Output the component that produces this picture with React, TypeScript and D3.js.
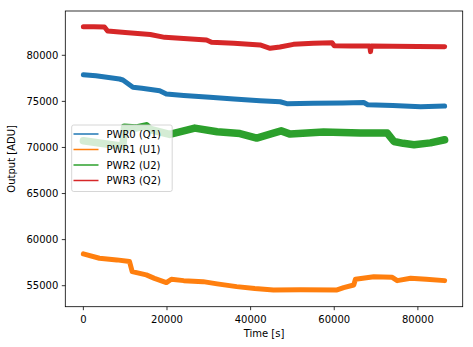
import React from "react";
import * as d3 from "d3";

const W = 473;
const H = 347;

const seriesNames = ["PWR0 (Q1)", "PWR1 (U1)", "PWR2 (U2)", "PWR3 (Q2)"];
const seriesColors = ["#1f77b4", "#ff7f0e", "#2ca02c", "#d62728"];

const xTicks = [0, 20000, 40000, 60000, 80000];
const yTicks = [55000, 60000, 65000, 70000, 75000, 80000];

// time [s], output [ADU]
const pwr0T = [0, 3000, 8640, 9450, 11850, 14000, 18250, 19850, 24000, 30250, 36000, 42260, 47060, 48660, 55000, 62000, 67060, 68000, 74000, 80670, 86400];
const pwr0V = [77900, 77780, 77430, 77320, 76530, 76420, 76160, 75800, 75640, 75440, 75250, 75070, 74960, 74750, 74800, 74820, 74880, 74640, 74560, 74420, 74500];

const pwr1T = [0, 3840, 8000, 11040, 11680, 15050, 17000, 19850, 21050, 24000, 28640, 32000, 36660, 41000, 45460, 52000, 60670, 62260, 64660, 65070, 69460, 73870, 75070, 78270, 82000, 86400];
const pwr1V = [58450, 57980, 57800, 57620, 56530, 56170, 55800, 55340, 55700, 55550, 55440, 55200, 54900, 54700, 54540, 54560, 54540, 54790, 55080, 55700, 55980, 55910, 55550, 55800, 55700, 55550];

const pwr2T = [0, 4630, 9440, 9840, 12500, 15050, 16000, 20650, 26650, 32000, 37450, 41460, 45450, 47300, 49460, 57450, 66270, 72680, 74280, 76500, 79080, 83000, 86400];
const pwr2V = [70730, 70430, 70130, 72190, 72100, 72350, 71950, 71410, 72100, 71700, 71510, 71020, 71560, 71800, 71450, 71670, 71560, 71560, 70650, 70450, 70300, 70500, 70840];

const pwr3T = [0, 2500, 5040, 5800, 10000, 16000, 19450, 24000, 29450, 30650, 36000, 42260, 44660, 47000, 50250, 55000, 59470, 60000, 64000, 68500, 68670, 68850, 74000, 80000, 86400];
const pwr3V = [83100, 83100, 83080, 82640, 82480, 82250, 81950, 81830, 81660, 81410, 81300, 81120, 80760, 80900, 81190, 81300, 81370, 81040, 81020, 81010, 80400, 81010, 80980, 80960, 80930];

const seriesT = [pwr0T, pwr1T, pwr2T, pwr3T];
const seriesV = [pwr0V, pwr1V, pwr2V, pwr3V];
const seriesWidth = [5, 5, 7.5, 5];

export default function App() {
  const left = 65.3, right = 462.7, top = 11, bottom = 306.7;
  const x = d3.scaleLinear().domain([-4320, 90720]).range([left, right]);
  const y = d3.scaleLinear().domain([52721, 84808]).range([bottom, top]);
  const font = "DejaVu Sans, sans-serif";

  const lines = seriesT.map((ts, i) => {
    const pts: [number, number][] = ts.map((t, j) => [t, seriesV[i][j]]);
    const gen = d3.line<[number, number]>().x(d => x(d[0])).y(d => y(d[1])).curve(d3.curveLinear);
    return gen(pts) || "";
  });

  const lgX = 71.7, lgY = 125, lgW = 100.5, lgH = 66.5;
  const rowY = [134, 149.5, 165, 180.5];

  return (
    <svg width={W} height={H} style={{ position: "absolute", left: 0, top: 0, background: "#fff" }} fontFamily={font}>
      <rect x={0} y={0} width={W} height={H} fill="#fff" />
      <defs>
        <clipPath id="plotclip">
          <rect x={left} y={top} width={right - left} height={bottom - top} />
        </clipPath>
      </defs>
      <g clipPath="url(#plotclip)">
        {lines.map((d, i) => (
          <path key={i} d={d} fill="none" stroke={seriesColors[i]} strokeWidth={seriesWidth[i]} strokeLinejoin="round" strokeLinecap="round" />
        ))}
      </g>
      <rect x={left} y={top} width={right - left} height={bottom - top} fill="none" stroke="#000" strokeWidth={0.8} />
      {xTicks.map(t => (
        <g key={t}>
          <line x1={x(t)} x2={x(t)} y1={bottom} y2={bottom + 3.5} stroke="#000" strokeWidth={0.8} />
          <text x={x(t)} y={323} fontSize={10} textAnchor="middle" fill="#000">{t}</text>
        </g>
      ))}
      {yTicks.map(t => (
        <g key={t}>
          <line x1={left - 3.5} x2={left} y1={y(t)} y2={y(t)} stroke="#000" strokeWidth={0.8} />
          <text x={left - 7} y={y(t)} dy="0.35em" fontSize={10} textAnchor="end" fill="#000">{t}</text>
        </g>
      ))}
      <text x={(left + right) / 2} y={337} fontSize={10} textAnchor="middle" fill="#000">Time [s]</text>
      <text transform={`translate(14.5, ${(top + bottom) / 2}) rotate(-90)`} fontSize={10} textAnchor="middle" fill="#000">Output [ADU]</text>
      <rect x={lgX} y={lgY} width={lgW} height={lgH} rx={2} fill="#fff" fillOpacity={0.8} stroke="#cccccc" strokeWidth={0.8} />
      {seriesNames.map((n, i) => (
        <g key={n}>
          <line x1={73.5} x2={98.5} y1={rowY[i]} y2={rowY[i]} stroke={seriesColors[i]} strokeWidth={1.5} />
          <text x={106.5} y={rowY[i]} dy="0.35em" fontSize={10} fill="#000">{n}</text>
        </g>
      ))}
    </svg>
  );
}
